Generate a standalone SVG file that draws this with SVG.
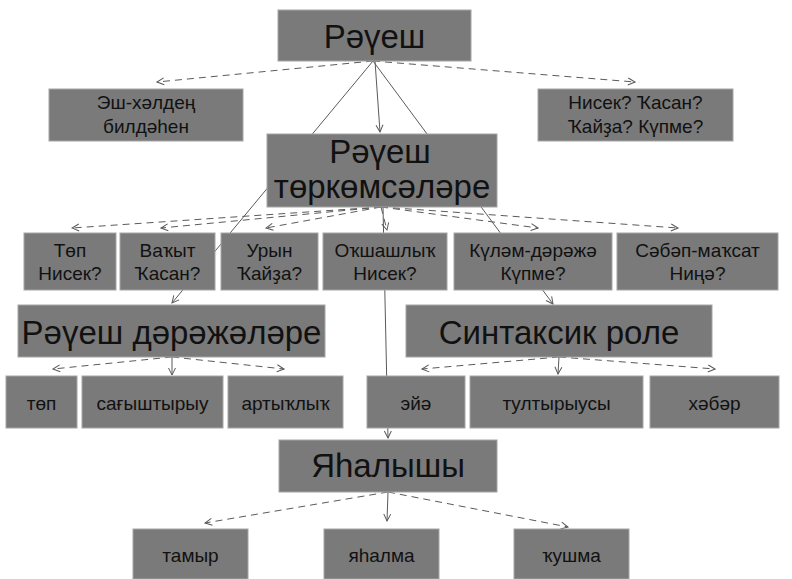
<svg xmlns="http://www.w3.org/2000/svg" width="792" height="579" viewBox="0 0 792 579">
<style>
.box{fill:#7a7a7a;stroke:#a5a5a5;stroke-width:1}
text{font-family:"Liberation Sans","DejaVu Sans",sans-serif;fill:#111;text-anchor:middle}
.big{font-size:33px}
.sm{font-size:19px}
.ln{fill:none;stroke:#5a5a5a;stroke-width:1}
.dash{stroke-dasharray:7,5}
</style>
<defs>
<marker id="ah" markerWidth="9" markerHeight="9" refX="8" refY="4.5" orient="auto" markerUnits="userSpaceOnUse">
<path d="M1,1 L8,4.5 L1,8" fill="none" stroke="#5a5a5a" stroke-width="1"/>
</marker>
</defs>
<rect width="792" height="579" fill="#fff"/>
<g id="connectors">
<line class="ln dash" x1="373" y1="61" x2="157" y2="82" marker-end="url(#ah)"/>
<line class="ln dash" x1="373" y1="61" x2="635" y2="82" marker-end="url(#ah)"/>
<line class="ln" x1="373" y1="61" x2="172" y2="303" marker-end="url(#ah)"/>
<line class="ln" x1="373" y1="61" x2="553" y2="304" marker-end="url(#ah)"/>
<line class="ln" x1="375" y1="61" x2="380" y2="132" marker-end="url(#ah)"/>
<line class="ln dash" x1="381" y1="207" x2="72" y2="228" marker-end="url(#ah)"/>
<line class="ln dash" x1="381" y1="207" x2="161" y2="228" marker-end="url(#ah)"/>
<line class="ln dash" x1="381" y1="207" x2="266" y2="228" marker-end="url(#ah)"/>
<line class="ln dash" x1="381" y1="207" x2="387" y2="230" marker-end="url(#ah)"/>
<line class="ln dash" x1="381" y1="207" x2="538" y2="228" marker-end="url(#ah)"/>
<line class="ln dash" x1="381" y1="207" x2="678" y2="228" marker-end="url(#ah)"/>
<line class="ln" x1="383" y1="207" x2="388" y2="438" marker-end="url(#ah)"/>
<line class="ln dash" x1="172" y1="357" x2="53" y2="369" marker-end="url(#ah)"/>
<line class="ln dash" x1="172" y1="357" x2="284" y2="369" marker-end="url(#ah)"/>
<line class="ln" x1="172" y1="357" x2="172" y2="375" marker-end="url(#ah)"/>
<line class="ln dash" x1="559" y1="357" x2="422" y2="369" marker-end="url(#ah)"/>
<line class="ln dash" x1="559" y1="357" x2="715" y2="369" marker-end="url(#ah)"/>
<line class="ln" x1="559" y1="357" x2="558" y2="374" marker-end="url(#ah)"/>
<line class="ln dash" x1="388" y1="492" x2="205" y2="523" marker-end="url(#ah)"/>
<line class="ln dash" x1="388" y1="492" x2="568" y2="527" marker-end="url(#ah)"/>
<line class="ln" x1="388" y1="492" x2="387" y2="521" marker-end="url(#ah)"/>
</g>
<g id="n-rauesh"><rect class="box" x="278" y="10" width="193" height="51"/><text class="big" x="374.5" y="48" font-size="34">Рәүеш</text></g>
<g id="n-esh"><rect class="box" x="49" y="89" width="194" height="52"/><text class="sm" x="146" y="109">Эш-хәлдең</text><text class="sm" x="146" y="133">билдәһен</text></g>
<g id="n-questions"><rect class="box" x="538" y="89" width="195" height="52"/><text class="sm" x="635.5" y="109">Нисек? Ҡасан?</text><text class="sm" x="635.5" y="133">Ҡайҙа? Күпме?</text></g>
<g id="n-torkom"><rect class="box" x="267" y="134" width="230" height="73"/><text class="big" x="380" y="163">Рәүеш</text><text class="big" x="382" y="198">төркөмсәләре</text></g>
<g id="n-top"><rect class="box" x="24" y="233" width="92" height="57"/><text class="sm" x="70" y="257">Төп</text><text class="sm" x="70" y="280">Нисек?</text></g>
<g id="n-vakyt"><rect class="box" x="120" y="233" width="95" height="57"/><text class="sm" x="167.5" y="257">Ваҡыт</text><text class="sm" x="167.5" y="280">Ҡасан?</text></g>
<g id="n-uryn"><rect class="box" x="221" y="233" width="97" height="57"/><text class="sm" x="269.5" y="257">Урын</text><text class="sm" x="269.5" y="280">Ҡайҙа?</text></g>
<g id="n-okshash"><rect class="box" x="323" y="233" width="124" height="57"/><text class="sm" x="385" y="257">Оҡшашлыҡ</text><text class="sm" x="385" y="280">Нисек?</text></g>
<g id="n-kulam"><rect class="box" x="454" y="233" width="158" height="57"/><text class="sm" x="533" y="257">Күләм-дәрәжә</text><text class="sm" x="533" y="280">Күпме?</text></g>
<g id="n-sabap"><rect class="box" x="617" y="233" width="161" height="57"/><text class="sm" x="697.5" y="257">Сәбәп-маҡсат</text><text class="sm" x="697.5" y="280">Ниңә?</text></g>
<g id="n-daraja"><rect class="box" x="18" y="305" width="307" height="52"/><text class="big" x="171.5" y="344">Рәүеш дәрәжәләре</text></g>
<g id="n-sintaksik"><rect class="box" x="406" y="305" width="306" height="52"/><text class="big" x="559" y="344">Синтаксик роле</text></g>
<g id="n-top2"><rect class="box" x="6" y="376" width="71" height="52"/><text class="sm" x="41.5" y="410">төп</text></g>
<g id="n-sagysh"><rect class="box" x="82" y="376" width="141" height="52"/><text class="sm" x="152.5" y="410">сағыштырыу</text></g>
<g id="n-artyk"><rect class="box" x="228" y="376" width="115" height="52"/><text class="sm" x="285.5" y="410">артыҡлыҡ</text></g>
<g id="n-eya"><rect class="box" x="367" y="376" width="98" height="52"/><text class="sm" x="416" y="410">эйә</text></g>
<g id="n-tultyr"><rect class="box" x="470" y="376" width="173" height="52"/><text class="sm" x="556.5" y="410">тултырыусы</text></g>
<g id="n-habar"><rect class="box" x="650" y="376" width="129" height="52"/><text class="sm" x="714.5" y="410">хәбәр</text></g>
<g id="n-yahal"><rect class="box" x="279" y="440" width="218" height="52"/><text class="big" x="388" y="477">Яһалышы</text></g>
<g id="n-tamyr"><rect class="box" x="133" y="529" width="115" height="50"/><text class="sm" x="190.5" y="562">тамыр</text></g>
<g id="n-yahalma"><rect class="box" x="324" y="529" width="115" height="50"/><text class="sm" x="381.5" y="562">яһалма</text></g>
<g id="n-kushma"><rect class="box" x="514" y="529" width="115" height="50"/><text class="sm" x="571.5" y="562">ҡушма</text></g>
</svg>
